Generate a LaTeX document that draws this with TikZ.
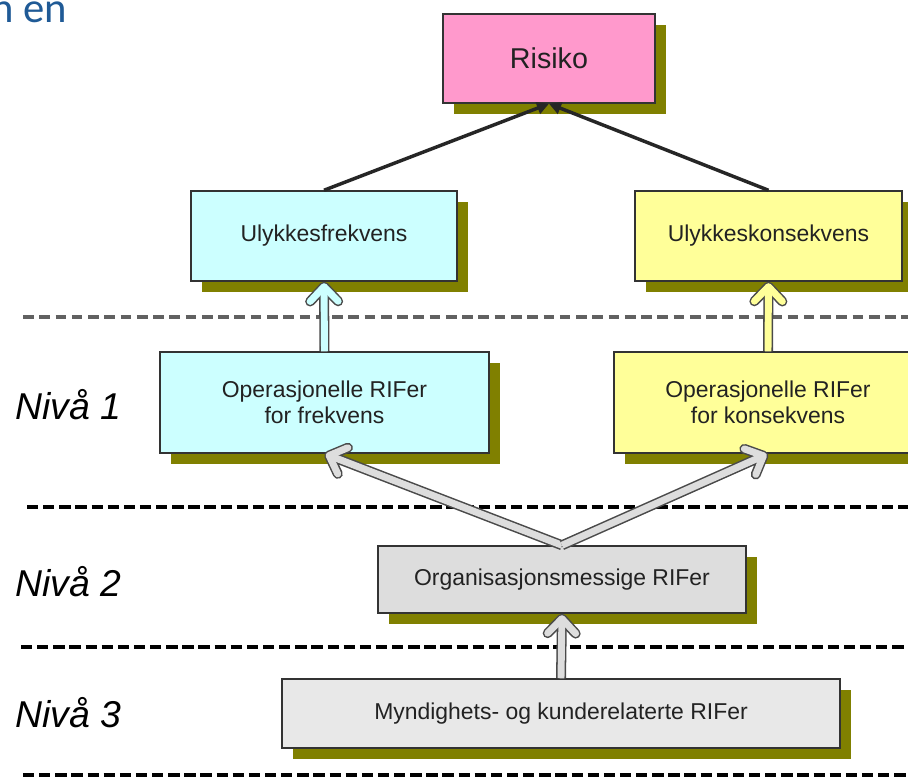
\documentclass[tikz,border=0pt]{standalone}
\usepackage{fontspec}
\setmainfont{Liberation Sans}
\newfontfamily\titlefont{Carlito}
\usetikzlibrary{arrows.meta,shadows,calc}
\definecolor{shadowolive}{HTML}{808000}
\definecolor{pinkfill}{HTML}{FF99CC}
\definecolor{cyanfill}{HTML}{CCFFFF}
\definecolor{yellowfill}{HTML}{FFFF99}
\definecolor{grayfill}{HTML}{DDDDDD}
\definecolor{lightgrayfill}{HTML}{E8E8E8}
\definecolor{titleblue}{HTML}{1F5A96}
\definecolor{textdark}{HTML}{222222}
\definecolor{arrowedge}{HTML}{4A4A4A}
\tikzset{
  box/.style={rectangle, draw=black!80, line width=1.1pt, inner sep=0pt, align=center,
    text=textdark, font=\fontsize{17.2pt}{19.5pt}\selectfont,
    drop shadow={fill=shadowolive, opacity=1, shadow xshift=8.25pt, shadow yshift=-8.25pt}},
  levellabel/.style={anchor=base west, inner sep=0pt, font=\fontsize{28pt}{30pt}\selectfont\itshape, text=black},
  grayrule/.style={draw=black!62, line width=3pt, dash pattern=on 8pt off 4.2pt},
  blackrule/.style={draw=black, line width=2.6pt, dash pattern=on 8.5pt off 3.6pt},
  thinarrow/.style={draw=black!85, line width=2.6pt, -{Triangle[length=9pt,width=9pt]}},
  blockout/.style={draw=arrowedge, line width=7.5pt, -{Straight Barb[length=11pt,width=21pt,round]}},
  blockin/.style={line width=5.2pt, shorten >=1.1pt, -{Straight Barb[length=11pt,width=21pt,round]}},
}
\newcommand{\blockarrow}[3]{%
  \draw[blockout] (#2) -- (#3);
  \draw[blockin, draw=#1] (#2) -- (#3);}
\begin{document}
\begin{tikzpicture}[x=0.75pt,y=-0.75pt]
\clip (0,0) rectangle (908,782);
\fill[white] (0,0) rectangle (908,782);

% title fragment
\node[anchor=base west, inner sep=0pt, text=titleblue, font=\titlefont\fontsize{32pt}{36pt}\selectfont] (title) at (-9,22) {n en};

% level rules
\draw[grayrule] (23,317) -- (908,317);
\draw[blackrule] (27,507) -- (908,507);
\draw[blackrule] (21,647) -- (908,647);
\draw[blackrule] (23,775) -- (908,775);

% level labels
\node[levellabel] (n1) at (15,419) {Nivå 1};
\node[levellabel] (n2) at (15,596) {Nivå 2};
\node[levellabel] (n3) at (15,727) {Nivå 3};

% boxes
\node[box, fill=pinkfill, minimum width=159pt, minimum height=66.75pt, font=\fontsize{21.5pt}{24pt}\selectfont] (ri) at (549,58.5) {Risiko};
\node[box, fill=cyanfill, minimum width=199.5pt, minimum height=67.5pt] (uf) at (324,236) {Ulykkesfrekvens};
\node[box, fill=yellowfill, minimum width=200.25pt, minimum height=67.5pt] (uk) at (768.5,236) {Ulykkeskonsekvens};
\node[box, fill=cyanfill, minimum width=246.75pt, minimum height=75.75pt] (of) at (324.5,402.5) {Operasjonelle RIFer\\for frekvens};
\node[box, fill=yellowfill, minimum width=231pt, minimum height=75.75pt] (ok) at (768,402.5) {Operasjonelle RIFer\\for konsekvens};
\node[box, fill=grayfill, minimum width=276pt, minimum height=50.25pt] (om) at (562,579.5) {Organisasjonsmessige RIFer};
\node[box, fill=lightgrayfill, minimum width=418.5pt, minimum height=51.75pt] (my) at (561,713.5) {Myndighets- og kunderelaterte RIFer};

% connectors
\draw[thinarrow] (uf.north) -- (ri.south);
\draw[thinarrow] (uk.north) -- (ri.south);
\blockarrow{cyanfill}{of.north}{uf.south}
\blockarrow{yellowfill}{ok.north}{uk.south}
\blockarrow{grayfill}{om.north}{of.south}
\blockarrow{grayfill}{om.north}{ok.south}
\blockarrow{grayfill}{my.north}{om.south}
\end{tikzpicture}
\end{document}
